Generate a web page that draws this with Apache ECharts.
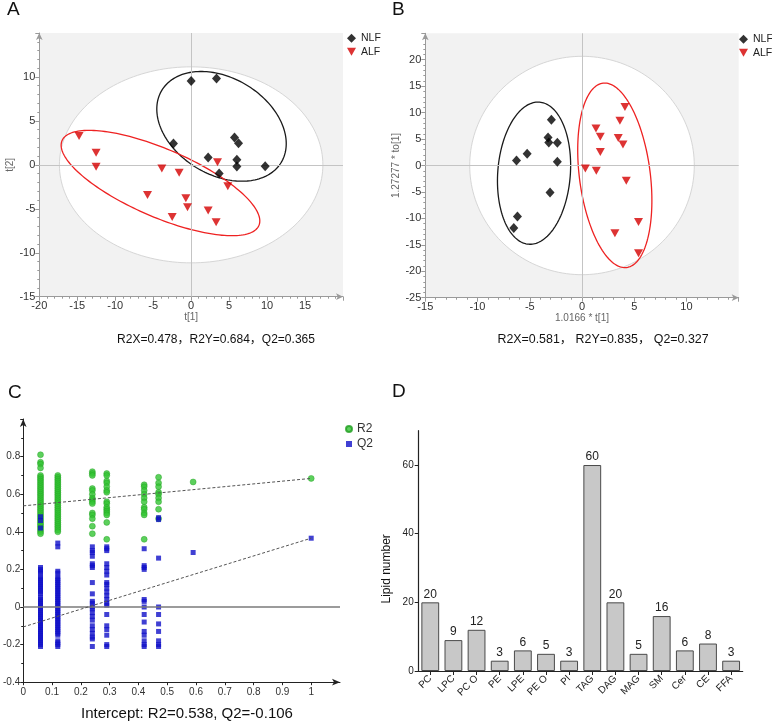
<!DOCTYPE html>
<html><head><meta charset="utf-8">
<script src="https://cdn.jsdelivr.net/npm/echarts@6/dist/echarts.min.js"></script>
<style>html,body{margin:0;padding:0;background:#fff}#c{width:772px;height:726px}</style>
</head><body><div id="c"></div><script>
const FONT = '"Liberation Sans", Arial, "Noto Sans CJK SC", sans-serif';

// ---- Panel A (PLS-DA scores) ----
const aNLF = [[0,9.55],[3.34,9.82],[-2.33,2.44],[2.24,0.84],[5.71,3.12],[6.24,2.47],[6.02,0.57],[6.02,-0.19],[3.69,-0.99],[9.75,-0.15]];
const aALF = [[-14.76,3.27],[-12.52,1.37],[-12.52,-0.23],[-3.86,-0.42],[-1.58,-0.91],[3.47,0.30],[4.83,-2.44],[-5.75,-3.42],[-0.70,-3.81],[-0.48,-4.83],[2.24,-5.18],[-2.5,-5.94],[3.29,-6.54]];
// ellipse = [centerX, centerY, semiAxisA, semiAxisB, rotationDeg]
const aT2 = [0,0,17.35,11.15,0];
const aEllNLF = [4.0,4.38,8.92,5.66,-22.4];
const aEllALF = [-4.04,-2.07,13.84,3.94,-19.9];
const aText = 'R2X=0.478，R2Y=0.684，Q2=0.365';

// ---- Panel B (OPLS-DA scores) ----
const bNLF = [[-2.93,8.65],[-3.25,5.30],[-3.18,4.36],[-2.36,4.29],[-5.25,2.21],[-6.27,0.95],[-2.36,0.69],[-3.06,-5.11],[-6.18,-9.66],[-6.53,-11.81]];
const bALF = [[4.11,11.05],[3.63,8.46],[1.34,7.01],[1.75,5.43],[3.47,5.18],[3.92,3.98],[1.75,2.53],[0.32,-0.57],[1.37,-1.01],[4.24,-2.90],[5.41,-10.67],[3.15,-12.82],[5.41,-16.6]];
const bT2 = [0,0,10.75,20.65,0];
const bEllNLF = [-4.59,-1.45,13.45,3.48,88.25];
const bEllALF = [3.14,-1.86,17.48,3.41,93.3];
const bText = 'R2X=0.581， R2Y=0.835， Q2=0.327';

// ---- Panel C (permutation test) ----
const permX = [0.06, 0.12, 0.24, 0.29, 0.42, 0.47, 0.59, 1];
const r2Cols = [
 [0.81,0.77,0.76,0.74,0.70,0.69,0.68,0.67,0.66,0.65,0.64,0.63,0.62,0.61,0.60,0.59,0.58,0.57,0.56,0.55,0.54,0.53,0.52,0.51,0.50,0.49,0.48,0.47,0.46,0.45,0.44,0.43,0.42,0.41,0.40,0.39],
 [0.70,0.69,0.68,0.67,0.66,0.65,0.64,0.63,0.62,0.61,0.60,0.59,0.58,0.57,0.56,0.55,0.54,0.53,0.52,0.51,0.50,0.49,0.48,0.47,0.46,0.45,0.44,0.43,0.42,0.41,0.40],
 [0.72,0.71,0.70,0.63,0.62,0.60,0.58,0.57,0.56,0.55,0.50,0.49,0.47,0.43,0.39],
 [0.71,0.70,0.67,0.66,0.64,0.62,0.61,0.56,0.55,0.53,0.52,0.51,0.50,0.49,0.45,0.36],
 [0.65,0.64,0.62,0.60,0.58,0.56,0.53,0.52,0.50,0.49,0.36],
 [0.69,0.66,0.64,0.61,0.60,0.58,0.56,0.52,0.47],
 [0.665],
 [0.684]
];
const q2Cols = [
 [0.48,0.46,0.42,0.21,0.20,0.19,0.18,0.16,0.15,0.14,0.13,0.12,0.11,0.10,0.09,0.08,0.07,0.05,0.04,0.03,0.02,0.01,0.00,-0.01,-0.02,-0.03,-0.04,-0.05,-0.06,-0.07,-0.08,-0.09,-0.10,-0.11,-0.12,-0.13,-0.14,-0.15,-0.16,-0.17,-0.18,-0.19,-0.20,-0.21],
 [0.34,0.32,0.19,0.18,0.16,0.15,0.14,0.13,0.12,0.11,0.10,0.09,0.08,0.07,0.06,0.05,0.04,0.03,0.02,0.01,0.00,-0.01,-0.02,-0.03,-0.04,-0.05,-0.06,-0.07,-0.08,-0.09,-0.10,-0.11,-0.12,-0.13,-0.14,-0.15,-0.18,-0.19,-0.20,-0.21],
 [0.32,0.30,0.29,0.27,0.23,0.22,0.21,0.13,0.07,0.03,0.02,0.00,-0.01,-0.03,-0.05,-0.07,-0.10,-0.12,-0.14,-0.16,-0.17,-0.21],
 [0.32,0.31,0.30,0.23,0.21,0.19,0.17,0.13,0.12,0.10,0.08,0.06,0.04,0.02,0.01,-0.04,-0.10,-0.12,-0.15,-0.20,-0.21],
 [0.31,0.22,0.21,0.20,0.04,0.03,0.00,-0.04,-0.08,-0.13,-0.15,-0.18,-0.20,-0.21],
 [0.475,0.465,0.26,0.00,-0.04,-0.09,-0.13,-0.18,-0.20,-0.21],
 [0.29],
 [0.366]
];
const r2Fit = [[0,0.538],[1,0.684]];
const q2Fit = [[0,-0.106],[1,0.366]];
const cText = 'Intercept: R2=0.538, Q2=-0.106';

// ---- Panel D (lipid classes) ----
const lipidClasses = ['PC','LPC','PC O','PE','LPE','PE O','PI','TAG','DAG','MAG','SM','Cer','CE','FFA'];
const lipidCounts = [20,9,12,3,6,5,3,60,20,5,16,6,8,3];

// ---- helpers ----
const triDown = 'path://M0,0L10,0L5,9Z';
function toPairs(xs, cols){ const out=[]; cols.forEach((c,i)=>c.forEach(v=>out.push([xs[i], v]))); return out; }
function ellipseSeries(idx, ell, fill, stroke, lw, z){
  return {type:'custom', xAxisIndex:idx, yAxisIndex:idx, z:z, silent:true,
    data:[ell], encode:{x:0,y:1},
    renderItem:function(params, api){
      const cx=api.value(0), cy=api.value(1), a=api.value(2), b=api.value(3), r=api.value(4)*Math.PI/180;
      const pts=[];
      for(let i=0;i<180;i++){const t=i/180*2*Math.PI;
        pts.push(api.coord([cx+a*Math.cos(t)*Math.cos(r)-b*Math.sin(t)*Math.sin(r), cy+a*Math.cos(t)*Math.sin(r)+b*Math.sin(t)*Math.cos(r)]));}
      return {type:'polygon', shape:{points:pts}, style:{fill:fill, stroke:stroke, lineWidth:lw}};
    }};
}
function scoreAxis(idx, min, max, name, gap){
  return {gridIndex:idx, type:'value', min:min, max:max, interval:5,
    name:name, nameLocation:'middle', nameGap:gap, nameTextStyle:{color:'#666', fontSize:10, fontFamily:FONT},
    axisLine:{show:true, onZero:false, lineStyle:{color:'#9a9a9a'}, symbol:['none','arrow'], symbolSize:[5,7]},
    axisTick:{show:true, length:4, lineStyle:{color:'#9a9a9a'}},
    minorTick:{show:true, splitNumber:5, length:2, lineStyle:{color:'#9a9a9a'}},
    splitLine:{show:false}, minorSplitLine:{show:false},
    axisLabel:{showMaxLabel:false, color:'#333', fontSize:11, margin:4, fontFamily:FONT}};
}
function crossSeries(idx){
  return {type:'scatter', xAxisIndex:idx, yAxisIndex:idx, data:[], z:2, silent:true,
    markLine:{silent:true, symbol:['none','none'], label:{show:false}, lineStyle:{color:'#c4c4c4', width:1, type:'solid'},
      data:[{xAxis:0},{yAxis:0}]}};
}
function scoreScatter(idx, name, data){
  const isN = name==='NLF';
  return {type:'scatter', name:name, xAxisIndex:idx, yAxisIndex:idx, data:data, z:5,
    symbol: isN ? 'diamond' : triDown, symbolSize: isN ? [9,10] : [9,8],
    itemStyle:{color: isN ? '#000' : '#d40000'}};
}
function groupLegend(left, top){
  return {left:left, top:top, padding:0, orient:'vertical', itemWidth:9, itemHeight:9, itemGap:3,
    textStyle:{fontSize:10.5, color:'#222', fontFamily:FONT},
    data:[{name:'NLF', icon:'diamond'},{name:'ALF', icon:triDown}]};
}

const chart = echarts.init(document.getElementById('c'), null, {renderer:'canvas'});
const txt = (x,y,text,size,align) => ({type:'text', x:x, y:y, silent:true,
  style:{text:text, fill:'#111', fontSize:size, fontFamily:FONT, align:align||'center', verticalAlign:'middle'}});

chart.setOption({
  animation:false,
  backgroundColor:'#fff',
  graphic:[
    txt(7,10,'A',19,'left'), txt(392,10,'B',19,'left'), txt(8,393,'C',19,'left'), txt(392,392,'D',19,'left'),
    txt(216,340,aText,12), txt(603,340,bText,12.4), txt(187,714,cText,15)
  ],
  legend:[
    groupLegend(347, 33),
    groupLegend(739, 34),
    {left:345, top:423, padding:0, orient:'vertical', itemWidth:6, itemHeight:6, itemGap:3, textStyle:{fontSize:12, color:'#333', fontFamily:FONT},
      data:[{name:'R2', icon:'circle'},{name:'Q2', icon:'rect'}]}
  ],
  grid:[
    {left:39.3, top:33, width:303.7, height:263.7, show:true, backgroundColor:'#f2f2f2', borderWidth:0},
    {left:425.3, top:33.3, width:313.4, height:264.4, show:true, backgroundColor:'#f2f2f2', borderWidth:0},
    {left:20.7, top:419, width:319.3, height:263.2},
    {left:418.7, top:430.7, width:324, height:240.3}
  ],
  xAxis:[
    scoreAxis(0,-20,20,'t[1]',16),
    scoreAxis(1,-15,15,'1.0166 * t[1]',16),
    {gridIndex:2, type:'value', min:0, max:1.1, interval:0.1,
      axisLine:{show:true, onZero:false, lineStyle:{color:'#222'}, symbol:['none','arrow'], symbolSize:[5,8]},
      axisTick:{show:true, length:3, lineStyle:{color:'#222'}}, splitLine:{show:false},
      axisLabel:{showMaxLabel:false, color:'#333', fontSize:10, margin:5, fontFamily:FONT}},
    {gridIndex:3, type:'category', data:lipidClasses,
      axisLine:{show:true, lineStyle:{color:'#222', width:1.2}},
      axisTick:{show:true, alignWithLabel:true, length:4, lineStyle:{color:'#222'}},
      axisLabel:{rotate:45, color:'#222', fontSize:10, margin:6, fontFamily:FONT}}
  ],
  yAxis:[
    scoreAxis(0,-15,15,'t[2]',24),
    scoreAxis(1,-25,25,'1.27277 * to[1]',24),
    {gridIndex:2, type:'value', min:-0.4, max:1.0, interval:0.2,
      axisLine:{show:true, onZero:false, lineStyle:{color:'#222'}, symbol:['none','arrow'], symbolSize:[5,8]},
      axisTick:{show:true, length:3, lineStyle:{color:'#222'}},
      minorTick:{show:true, splitNumber:2, length:2, lineStyle:{color:'#222'}},
      splitLine:{show:false},
      axisLabel:{showMaxLabel:false, color:'#333', fontSize:10, margin:3, fontFamily:FONT}},
    {gridIndex:3, type:'value', min:0, max:70, interval:20,
      name:'Lipid number', nameLocation:'middle', nameGap:26,
      nameTextStyle:{color:'#111', fontSize:12, fontFamily:FONT, padding:[0,36,0,0]},
      axisLine:{show:true, lineStyle:{color:'#222', width:1.2}},
      axisTick:{show:true, length:4, lineStyle:{color:'#222'}, customValues:[0,20,40,60]},
      splitLine:{show:false},
      axisLabel:{color:'#222', fontSize:10, margin:5, fontFamily:FONT, customValues:[0,20,40,60]}}
  ],
  series:[
    ellipseSeries(0, aT2, '#ffffff', '#d6d6d6', 1, 1),
    crossSeries(0),
    ellipseSeries(0, aEllNLF, 'none', '#1a1a1a', 1.3, 3),
    ellipseSeries(0, aEllALF, 'none', '#ee2222', 1.3, 3),
    scoreScatter(0,'NLF',aNLF),
    scoreScatter(0,'ALF',aALF),

    ellipseSeries(1, bT2, '#ffffff', '#d6d6d6', 1, 1),
    crossSeries(1),
    ellipseSeries(1, bEllNLF, 'none', '#1a1a1a', 1.3, 3),
    ellipseSeries(1, bEllALF, 'none', '#ee2222', 1.3, 3),
    scoreScatter(1,'NLF',bNLF),
    scoreScatter(1,'ALF',bALF),

    {type:'scatter', xAxisIndex:2, yAxisIndex:2, data:[], silent:true, z:1,
      markLine:{silent:true, symbol:['none','none'], label:{show:false}, lineStyle:{color:'#7a7a7a', width:1.5, type:'solid'}, data:[{yAxis:0}]}},
    {type:'scatter', name:'R2', xAxisIndex:2, yAxisIndex:2, data:toPairs(permX, r2Cols), z:3,
      symbol:'circle', symbolSize:6, itemStyle:{color:'#33c433', borderColor:'#1f9e1f', borderWidth:0.5}},
    {type:'scatter', name:'Q2', xAxisIndex:2, yAxisIndex:2, data:toPairs(permX, q2Cols), z:4,
      symbol:'rect', symbolSize:5, itemStyle:{color:'#1010c8'}},
    {type:'line', xAxisIndex:2, yAxisIndex:2, data:r2Fit, z:5, symbol:'none', silent:true,
      lineStyle:{color:'#555', width:1, type:[3,2]}},
    {type:'line', xAxisIndex:2, yAxisIndex:2, data:q2Fit, z:5, symbol:'none', silent:true,
      lineStyle:{color:'#555', width:1, type:[3,2]}},

    {type:'bar', xAxisIndex:3, yAxisIndex:3, data:lipidCounts, barCategoryGap:'23%',
      itemStyle:{color:'#c8c8c8', borderColor:'#4a4a4a', borderWidth:1},
      label:{show:true, position:'top', distance:2, color:'#222', fontSize:12, fontFamily:FONT}}
  ]
});
</script></body></html>
